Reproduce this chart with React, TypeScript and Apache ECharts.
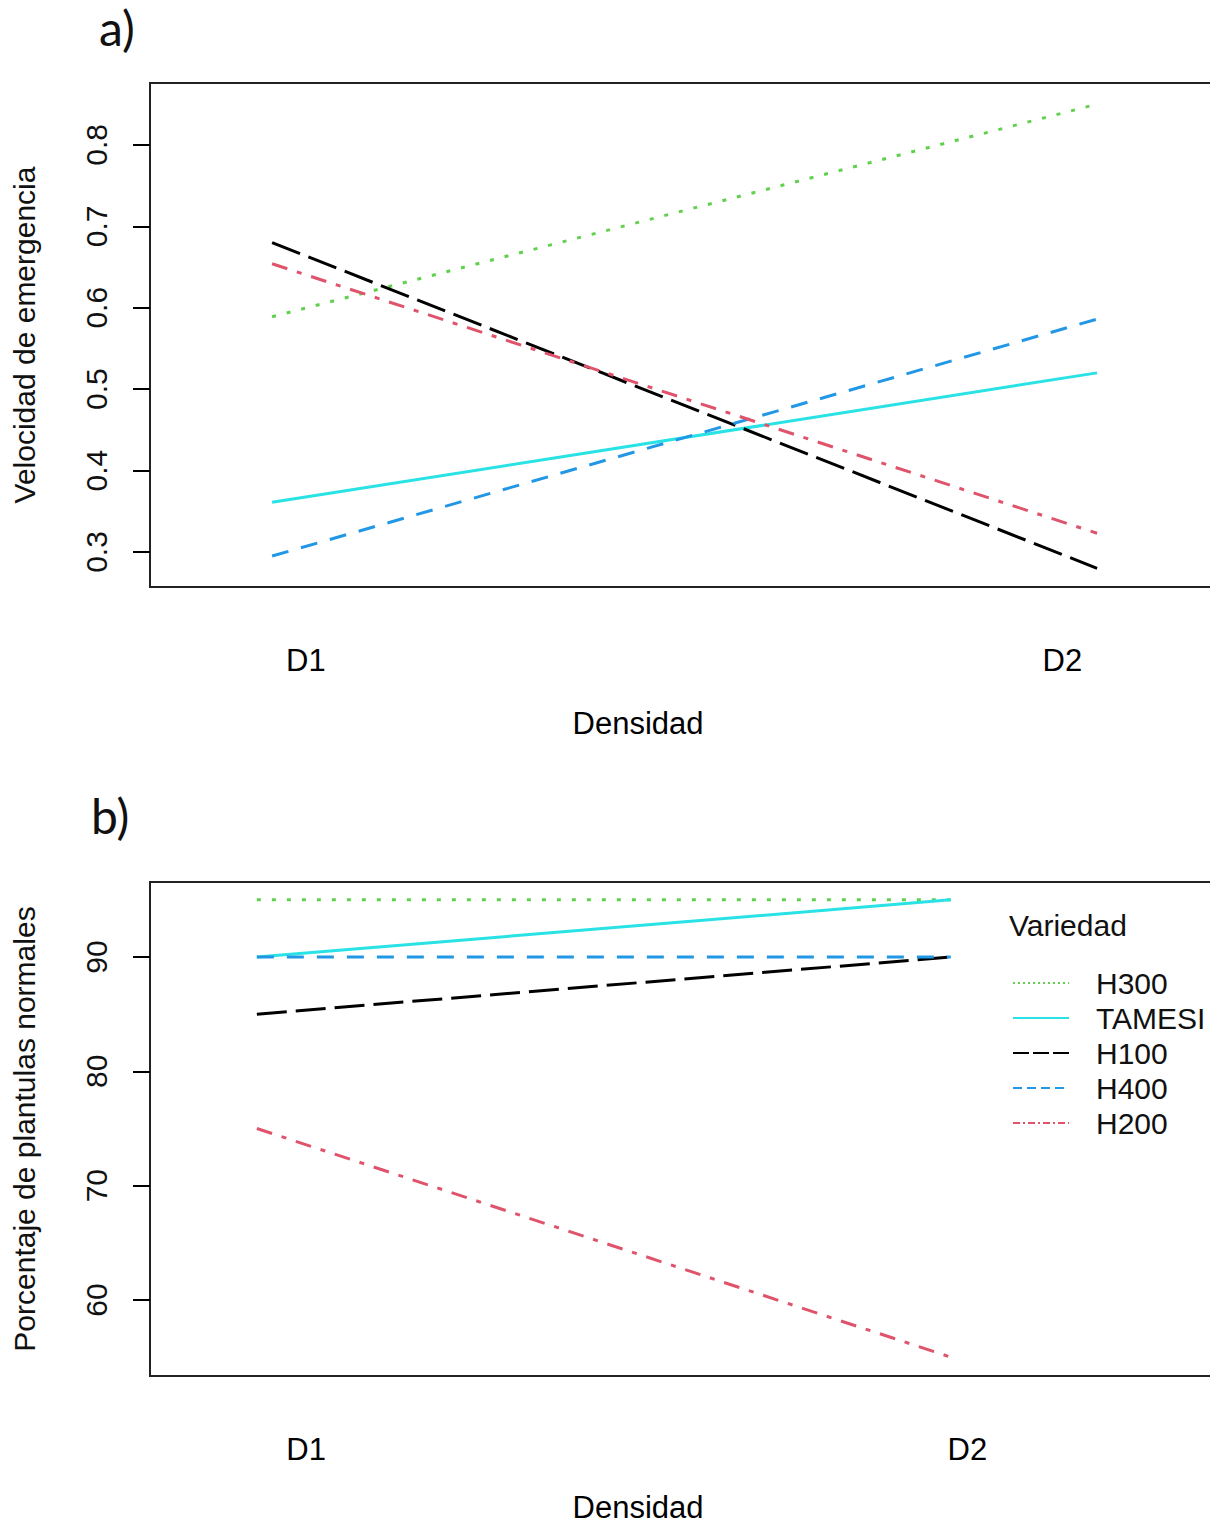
import React, { useEffect, useRef } from "react";
import * as echarts from "echarts";

// ---------- data ----------
const densidades = ["D1", "D2"];
const variedades = ["H300", "TAMESI", "H100", "H400", "H200"];

// a) Velocidad de emergencia
const velH300 = [0.589, 0.85];
const velTAMESI = [0.361, 0.52];
const velH100 = [0.68, 0.28];
const velH400 = [0.295, 0.586];
const velH200 = [0.654, 0.323];

// b) Porcentaje de plantulas normales
const pctH300 = [95, 95];
const pctTAMESI = [90, 95];
const pctH100 = [85, 90];
const pctH400 = [90, 90];
const pctH200 = [75, 55];

const yTicksA = [0.3, 0.4, 0.5, 0.6, 0.7, 0.8];
const yTicksB = [60, 70, 80, 90];

// ---------- layout / style ----------
const labelPosA = [1.041, 1.958];
const labelPosB = [1.071, 2.024];

const colors: Record<string, string> = {
  H300: "#61D04F",
  TAMESI: "#28E2E5",
  H100: "#000000",
  H400: "#2297E6",
  H200: "#DF536B",
};
const dashes: Record<string, any> = {
  H300: [4, 11],
  TAMESI: "solid",
  H100: [30, 9],
  H400: [17, 13],
  H200: [16, 10, 5, 10],
};
const legendDashes: Record<string, any> = {
  H300: [2, 3],
  TAMESI: "solid",
  H100: [16, 4],
  H400: [9, 5],
  H200: [7, 3, 2, 3],
};

const valsA: Record<string, number[]> = {
  H300: velH300,
  TAMESI: velTAMESI,
  H100: velH100,
  H400: velH400,
  H200: velH200,
};
const valsB: Record<string, number[]> = {
  H300: pctH300,
  TAMESI: pctTAMESI,
  H100: pctH100,
  H400: pctH400,
  H200: pctH200,
};

const sans = "'Liberation Sans', Arial, sans-serif";
const calibriLike = "Lato, 'Open Sans', sans-serif";

function makeXAxis(gridIndex: number, min: number, max: number, labelPos: number[], nameGap: number) {
  return {
    type: "value",
    gridIndex,
    min,
    max,
    axisLine: { show: false },
    axisTick: { show: false },
    splitLine: { show: false },
    axisLabel: {
      customValues: labelPos,
      margin: 58,
      fontSize: 31,
      color: "#000",
      fontFamily: sans,
      formatter: (v: number) => {
        const i = labelPos.findIndex((p) => Math.abs(p - v) < 1e-6);
        return i >= 0 ? densidades[i] : "";
      },
    },
    name: "Densidad",
    nameLocation: "middle",
    nameGap,
    nameTextStyle: {
      fontSize: 31,
      color: "#000",
      fontFamily: sans,
      padding: [0, 94, 0, 0],
    },
  };
}

function makeYAxis(gridIndex: number, min: number, max: number, ticks: number[], name: string) {
  return {
    type: "value",
    gridIndex,
    min,
    max,
    axisLine: { show: false },
    splitLine: { show: false },
    axisTick: {
      show: true,
      customValues: ticks,
      length: 17,
      inside: false,
      lineStyle: { color: "#000", width: 2 },
    },
    axisLabel: {
      customValues: ticks,
      rotate: 90,
      margin: 39,
      fontSize: 30,
      color: "#111",
      fontFamily: sans,
    },
    name,
    nameLocation: "middle",
    nameRotate: 90,
    nameGap: 111,
    nameTextStyle: { fontSize: 30, color: "#111", fontFamily: sans },
  };
}

export default function App() {
  const ref = useRef<HTMLDivElement>(null);
  useEffect(() => {
    document.body.style.margin = "0";
    const chart = echarts.init(ref.current!, undefined, { renderer: "svg" });

    const series: any[] = [];
    variedades.forEach((v) => {
      series.push({
        name: v,
        type: "line",
        xAxisIndex: 0,
        yAxisIndex: 0,
        symbol: "none",
        data: valsA[v].map((y, i) => [i + 1, y]),
        lineStyle: { color: colors[v], width: 3, type: dashes[v], cap: "butt" },
        itemStyle: { color: colors[v] },
      });
      series.push({
        name: v,
        type: "line",
        xAxisIndex: 1,
        yAxisIndex: 1,
        symbol: "none",
        data: valsB[v].map((y, i) => [i + 1, y]),
        lineStyle: { color: colors[v], width: 3, type: dashes[v], cap: "butt" },
        itemStyle: { color: colors[v] },
      });
    });

    chart.setOption({
      animation: false,
      backgroundColor: "#fff",
      title: [
        { text: "a)", left: 94, top: -2, textStyle: { fontSize: 48, fontWeight: "normal", fontFamily: calibriLike, color: "#111" } },
        { text: "b)", left: 86, top: 786, textStyle: { fontSize: 48, fontWeight: "normal", fontFamily: calibriLike, color: "#111" } },
        { text: "Variedad", left: 1004, top: 905, textStyle: { fontSize: 30, fontWeight: "normal", fontFamily: sans, color: "#111" } },
      ],
      grid: [
        { left: 150, top: 83, width: 1070, height: 504, show: true, borderColor: "#222", borderWidth: 2, backgroundColor: "transparent", outerBoundsMode: "none", containLabel: false },
        { left: 150, top: 882, width: 1070, height: 494, show: true, borderColor: "#222", borderWidth: 2, backgroundColor: "transparent", outerBoundsMode: "none", containLabel: false },
      ],
      xAxis: [
        makeXAxis(0, 0.852, 2.149, labelPosA, 121),
        makeXAxis(1, 0.846, 2.388, labelPosB, 116),
      ],
      yAxis: [
        makeYAxis(0, 0.257, 0.876, yTicksA, "Velocidad de emergencia"),
        makeYAxis(1, 53.35, 96.56, yTicksB, "Porcentaje de plantulas normales"),
      ],
      legend: {
        orient: "vertical",
        left: 1012,
        top: 968,
        padding: 0,
        itemWidth: 56,
        itemHeight: 14,
        itemGap: 5,
        textStyle: { fontSize: 30, lineHeight: 30, color: "#111", fontFamily: sans, padding: [0, 0, 0, 22] },
        data: variedades.map((v) => ({
          name: v,
          lineStyle: { width: 2, type: legendDashes[v], color: colors[v] },
          itemStyle: { color: "transparent", borderColor: "transparent", borderWidth: 0, opacity: 0 },
        })),
      },
      series,
    });
    return () => chart.dispose();
  }, []);
  return <div ref={ref} style={{ width: 1210, height: 1528 }} />;
}
